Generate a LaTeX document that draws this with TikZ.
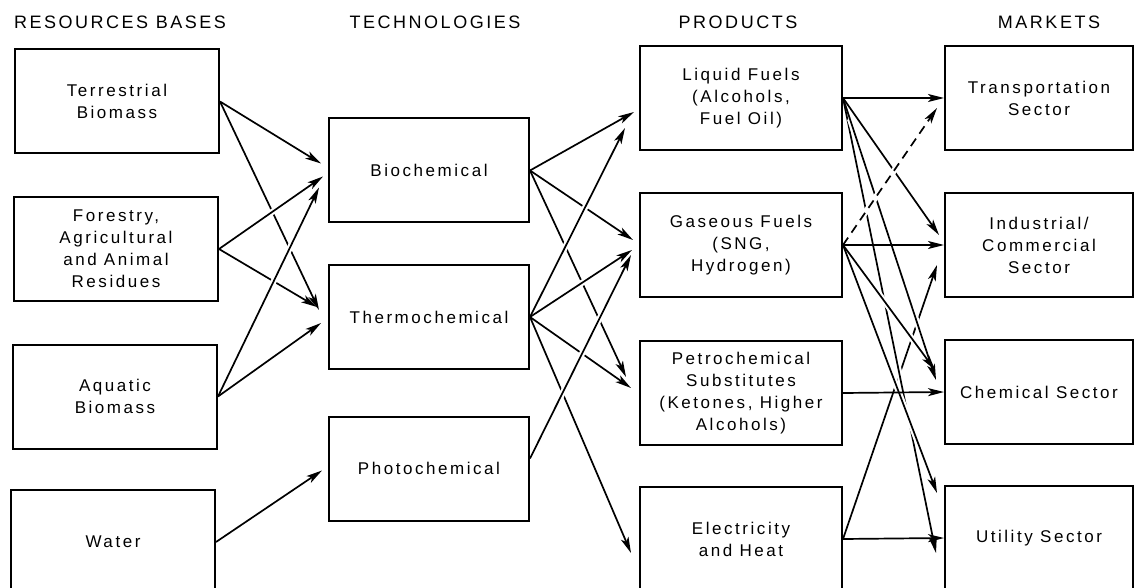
\documentclass[tikz,border=0pt]{standalone}
\usepackage{fontspec}
\newfontfamily\boxfont[LetterSpace=15]{Liberation Sans}
\newfontfamily\headfont[LetterSpace=14]{Liberation Sans}
\usetikzlibrary{arrows.meta,calc}
\tikzset{
  blk/.style={draw,line width=2pt,align=center,inner sep=2pt,minimum height=104pt,
    font=\boxfont\fontsize{17}{22}\selectfont},
  res/.style={blk,minimum width=204pt},
  tech/.style={blk,minimum width=200pt},
  prod/.style={blk,minimum width=202pt},
  mkt/.style={blk,minimum width=188pt},
  hdr/.style={font=\headfont\fontsize{18}{22}\selectfont,inner sep=0pt},
  arr/.style={line width=1.7pt,-{Stealth[length=16pt,width=8pt,inset=4pt]}},
  gap/.style={preaction={draw=white,line width=6pt,-,shorten <=22pt,shorten >=22pt}},
  dsh/.style={arr,dash pattern=on 9pt off 6pt}
}
\begin{document}
\begin{tikzpicture}[x=1pt,y=-1pt]
\useasboundingbox (0,0) rectangle (1135,588);
\fill[white] (0,0) rectangle (1135,588);
\clip (0,0) rectangle (1135,588);
% column headings
\node[hdr] (hr) at (120,22) {RESOURCES BASES};
\node[hdr] (ht) at (435,22) {TECHNOLOGIES};
\node[hdr] (hp) at (738,22) {PRODUCTS};
\node[hdr] (hm) at (1049,22) {MARKETS};
% resources
\node[res] (r1) at (117,101.5) {Terrestrial\\Biomass};
\node[res] (r2) at (116,249) {Forestry,\\Agricultural\\and Animal\\Residues};
\node[res] (r3) at (115,396.5) {Aquatic\\Biomass};
\node[res] (r4) at (113,542) {Water};
% technologies
\node[tech] (t1) at (429,170.5) {Biochemical};
\node[tech] (t2) at (429,317) {Thermochemical};
\node[tech] (t3) at (429,468.5) {Photochemical};
% products
\node[prod] (p1) at (741,98) {Liquid Fuels\\(Alcohols,\\Fuel Oil)};
\node[prod] (p2) at (741,245) {Gaseous Fuels\\(SNG,\\Hydrogen)};
\node[prod] (p3) at (741,393) {Petrochemical\\Substitutes\\(Ketones, Higher\\Alcohols)};
\node[prod] (p4) at (741,539) {Electricity\\and Heat};
% markets
\node[mkt] (m1) at (1039,98) {Transportation\\Sector};
\node[mkt] (m2) at (1039,245) {Industrial/\\Commercial\\Sector};
\node[mkt] (m3) at (1039,392) {Chemical Sector};
\node[mkt] (m4) at (1039,538) {Utility Sector};
% resources to technologies
\foreach \s/\t/\dx/\dy in {r1/t1/-7/-7,r1/t2/-9/-7,r2/t2/-11/-10,r2/t1/-5/6,
  r3/t2/-7/6,r3/t1/-9/17,r4/t3/-6/2}
  \draw[arr,gap] (\s.east) -- ($(\t.west)+(\dx,\dy)$);
% technologies to products
\foreach \s/\t/\dx/\dy in {t1/p1/-5/14,t1/p2/-6/-5,t1/p3/-13/-16,
  t2/p2/-7/5,t2/p3/-8/-5,t2/p4/-8/14,t2/p1/-14/30}
  \draw[arr,gap] (\s.east) -- ($(\t.west)+(\dx,\dy)$);
\draw[arr,gap] ($(t3.east)+(0,-10)$) -- ($(p2.west)+(-8,10)$);
% products to markets
\draw[arr,gap] (p4.east) -- ($(m2.west)+(-7,20)$);
\foreach \s/\t/\dx/\dy in {p1/m4/-8/15,p2/m4/-7/-45,p1/m3/-8/-12,
  p2/m3/-9/-22,p1/m2/-5/-10}
  \draw[arr,gap] (\s.east) -- ($(\t.west)+(\dx,\dy)$);
\draw[dsh,gap] (p2.east) -- ($(m1.west)+(-7,10)$);
\foreach \i in {1,...,4}
  \draw[arr] (p\i.east) -- (m\i.west);
\end{tikzpicture}
\end{document}
